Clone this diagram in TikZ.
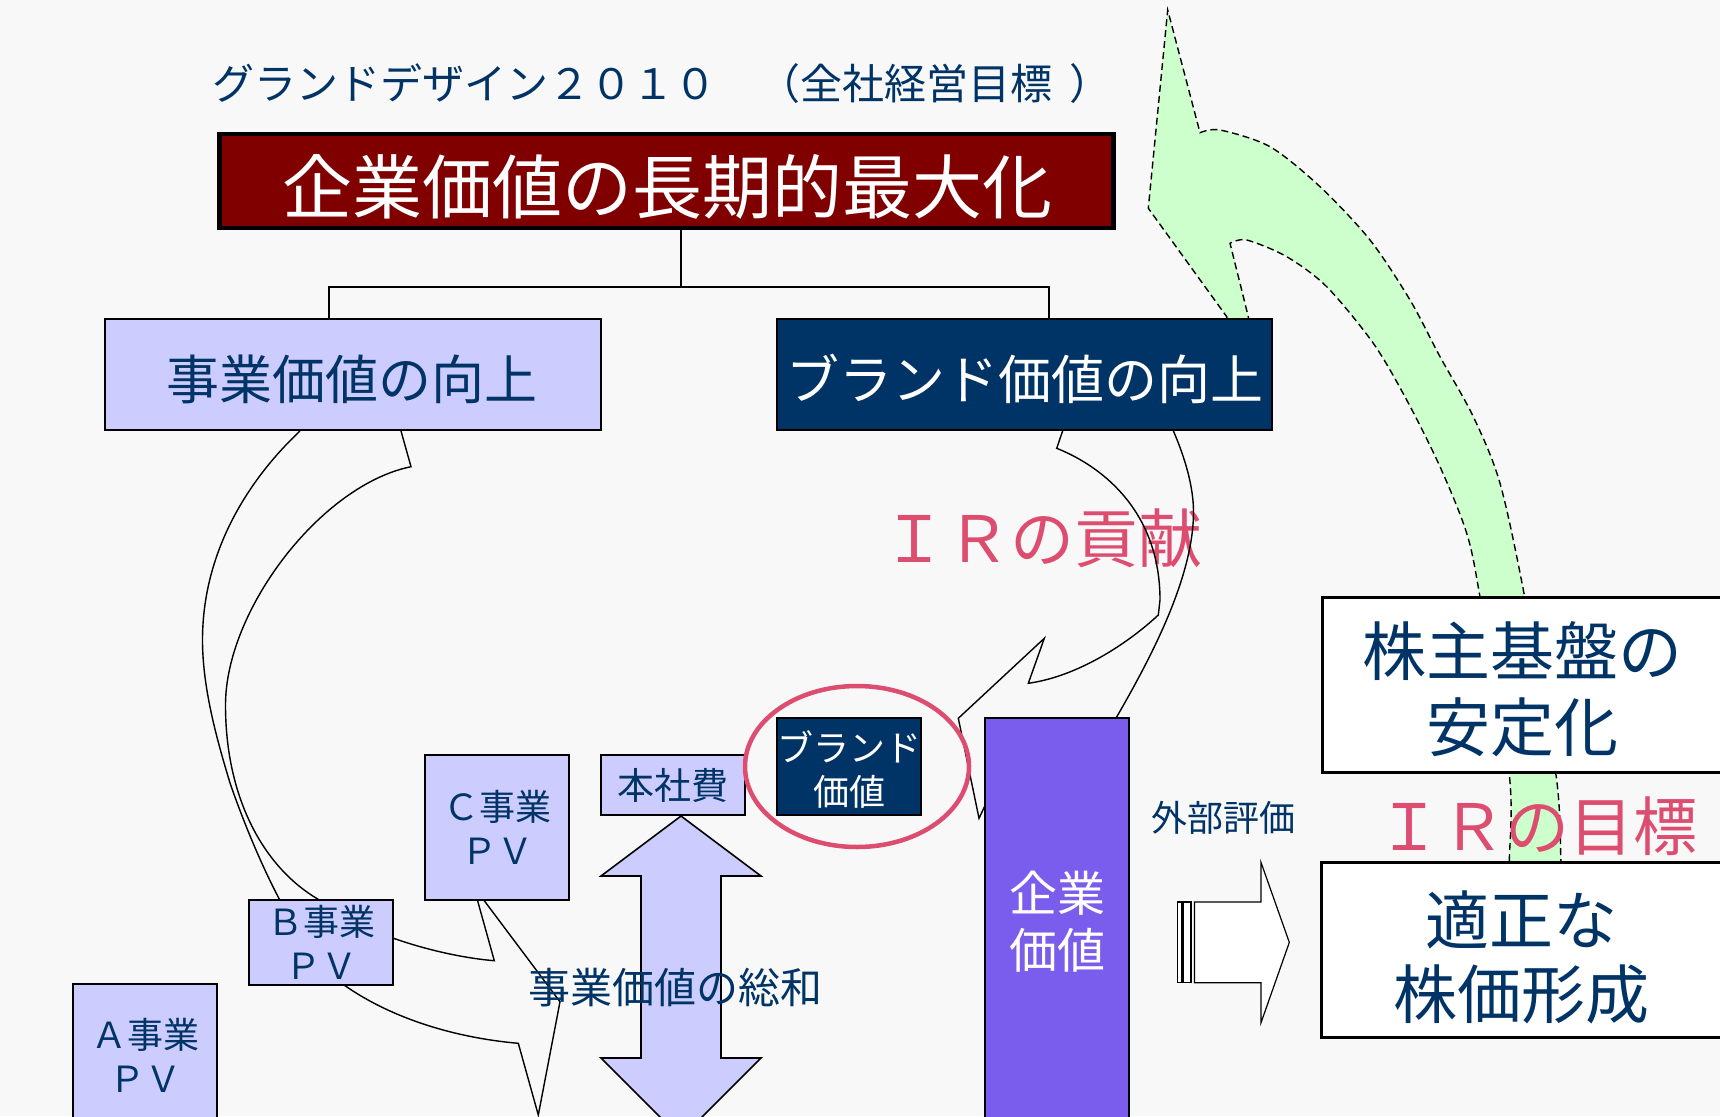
\documentclass[tikz,border=0pt]{standalone}
\usepackage{fontspec}
\setmainfont{Noto Sans CJK JP}
\definecolor{bgc}{RGB}{248,248,248}
\definecolor{lav}{RGB}{204,204,255}
\definecolor{navy}{RGB}{0,51,102}
\definecolor{dred}{RGB}{128,0,0}
\definecolor{purp}{RGB}{123,93,238}
\definecolor{pinkc}{RGB}{221,77,112}
\definecolor{grn}{RGB}{204,255,204}
\newcommand{\myfs}[2]{\fontsize{#1}{#2}\selectfont}
\tikzset{
  box/.style={draw=black, line width=1.6pt, inner sep=0pt, outer sep=0pt, anchor=north west, align=center},
  lavbox/.style={box, fill=lav, text=navy},
  navybox/.style={box, fill=navy, text=white},
  whitebox/.style={box, fill=white, text=navy, line width=3pt},
  carrow/.style={draw=black, line width=1.4pt, line join=miter},
  conn/.style={draw=black, line width=1.5pt},
  lbl/.style={inner sep=0pt, outer sep=0pt, align=center},
  greenarrow/.style={fill=grn, draw=black, line width=1.4pt, dash pattern=on 7pt off 4pt},
  stripe/.style={fill=white, draw=black, line width=1.2pt},
}
\begin{document}
\begin{tikzpicture}[x=1pt,y=-1pt]
\useasboundingbox (0,0) rectangle (1720,1116);
\fill[bgc] (0,0) rectangle (1720,1116);

% green curved arrow
\path[greenarrow]
 plot[smooth] coordinates {(1509,905) (1509.3,862) (1509.3,775) (1480,597) (1466.7,533.3) (1440,466.7) (1406.7,400) (1373.3,343.3) (1326.7,286.7) (1286.7,256.7) (1246.7,240) (1230,243.3)}
 -- (1248.3,316.7) -- (1252,340) -- (1232,340) -- (1226.7,316.7) -- (1148.3,208.3) -- (1167.7,10) -- (1200,132.7)
 -- plot[smooth] coordinates {(1200,132.7) (1220,130) (1270,146.7) (1320,186.7) (1370,240) (1410,300) (1440,356.7) (1473.3,416.7) (1500,483.3) (1524.5,596) (1556,775) (1561,862) (1563,905)}
 -- cycle;

% labels over the green arrow
\node[lbl, text=pinkc, font=\myfs{64}{70}] (irg) at (1537,826) {ＩＲの目標};
\node[lbl, text=pinkc, font=\myfs{64}{70}] (irc) at (1042,538) {ＩＲの貢献};

% left curved arrow
\draw[carrow] (300,431) .. controls (250,478) and (202.5,550) .. (202.5,640)
  .. controls (202.5,690) and (218,743) .. (230,783)
  .. controls (249,838) and (294,950) .. (344,985)
  .. controls (394,1020) and (458,1038) .. (518.3,1043.3)
  -- (538.3,1115) -- (560,1001.7) -- (480,895);
\draw[carrow] (401,431) -- (411,466.7)
  .. controls (321,485) and (225.5,610) .. (225.5,705)
  .. controls (225.5,800) and (265,868) .. (317.7,899)
  .. controls (362.7,935) and (444.3,956.7) .. (494.3,960.7)
  -- (476,895);

% right curved arrow
\draw[carrow] (1062.7,430.7) -- (1056.7,448.3)
  .. controls (1106.7,468.3) and (1160,515) .. (1160,600)
  -- (1158.3,615)
  .. controls (1128.3,643) and (1078.3,676.3) .. (1028.3,683.3)
  -- (1044.3,638.3) -- (958.3,718.3) -- (979,818.3) -- (990,795);
\draw[carrow] (1173.3,430.7) .. controls (1185.3,458.7) and (1193.5,487) .. (1193.5,512)
  .. controls (1193.5,580) and (1147,665) .. (1112,725);

% title and top box
\node[lbl, anchor=west, text=navy, font=\myfs{42}{50}] (title) at (212,84) {グランドデザイン２０１０　（全社経営目標\hspace{18pt}）};
\node[box, fill=dred, line width=4.5pt, minimum width=894pt, minimum height=94pt] (goal) at (219.5,134) {};
\node[lbl, text=white, font=\myfs{70}{80}] (goalt) at (667,187) {企業価値の長期的最大化};

% second level
\node[lavbox, minimum width=496pt, minimum height=111pt] (jigyo) at (105,319) {};
\node[lbl, text=navy, font=\myfs{53}{60}] (jigyot) at (352,379) {事業価値の向上};
\node[navybox, minimum width=495pt, minimum height=111pt] (brand) at (777,319) {};
\node[lbl, text=white, font=\myfs{53}{60}] (brandt) at (1025,379) {ブランド価値の向上};

\coordinate (t1) at (681,230);
\coordinate (jl) at (329,319);
\coordinate (bl) at (1049,319);
\draw[conn] (t1) -- ++(0,57) -| (jl);
\draw[conn] (t1) -- ++(0,57) -| (bl);

% business boxes
\node[lavbox, minimum width=144pt, minimum height=145pt, font=\myfs{36}{44}] (cpv) at (425,755) {Ｃ事業\\ＰＶ};
\node[lavbox, minimum width=144pt, minimum height=85pt, font=\myfs{36}{44}] (bpv) at (249,900) {Ｂ事業\\ＰＶ};
\node[lavbox, minimum width=144pt, minimum height=142pt, font=\myfs{36}{44}] (apv) at (73,984) {Ａ事業\\ＰＶ};
\node[lavbox, minimum width=144pt, minimum height=60pt, font=\myfs{37}{44}] (honsha) at (601,755) {本社費};

% double arrow
\coordinate (dtip) at (681,816);
\draw[fill=lav, draw=black, line width=1.6pt] (dtip) -- ++(80,60) -- ++(-40,0) -- ++(0,182) -- ++(40,0) -- ++(-80,80) -- ++(-80,-80) -- ++(40,0) -- ++(0,-182) -- ++(-40,0) -- cycle;
\node[lbl, text=navy, font=\myfs{42}{50}] (sowa) at (675,988) {事業価値の総和};

% brand value and corporate value
\node[navybox, minimum width=144pt, minimum height=97pt] (bv) at (777,718) {};
\node[lbl, text=white, font=\myfs{36}{44}] (bvt) at (849,769) {ブランド\\価値};
\draw[pinkc, line width=4.5pt] (bv.center) ++(8,0) ellipse [x radius=112pt, y radius=80.5pt];
\node[box, fill=purp, minimum width=144pt, minimum height=420pt] (cv) at (985,718) {};
\node[lbl, text=white, font=\myfs{48}{57}] (cvt) at (1057,922) {企業\\価値};

\node[lbl, text=navy, font=\myfs{36}{44}] (gaibu) at (1223,818) {外部評価};

% striped block arrow
\draw[stripe] (1177.3,902) rectangle (1182,982.7);
\draw[stripe] (1183.8,902) rectangle (1191,982.7);
\draw[stripe] (1194.4,902) -- (1261,902) -- (1261,862.4) -- (1289.3,942.4) -- (1261,1022.7) -- (1261,982.7) -- (1194.4,982.7) -- cycle;

% right boxes
\node[whitebox, minimum width=402pt, minimum height=175pt] (kabu) at (1322,597) {};
\node[lbl, text=navy, font=\myfs{64}{76}] (kabut) at (1522,689) {株主基盤の\\安定化};
\node[whitebox, minimum width=402pt, minimum height=175pt] (tekisei) at (1321,862) {};
\node[lbl, text=navy, font=\myfs{64}{74}] (tekiseit) at (1521,957) {適正な\\株価形成};
\end{tikzpicture}
\end{document}
